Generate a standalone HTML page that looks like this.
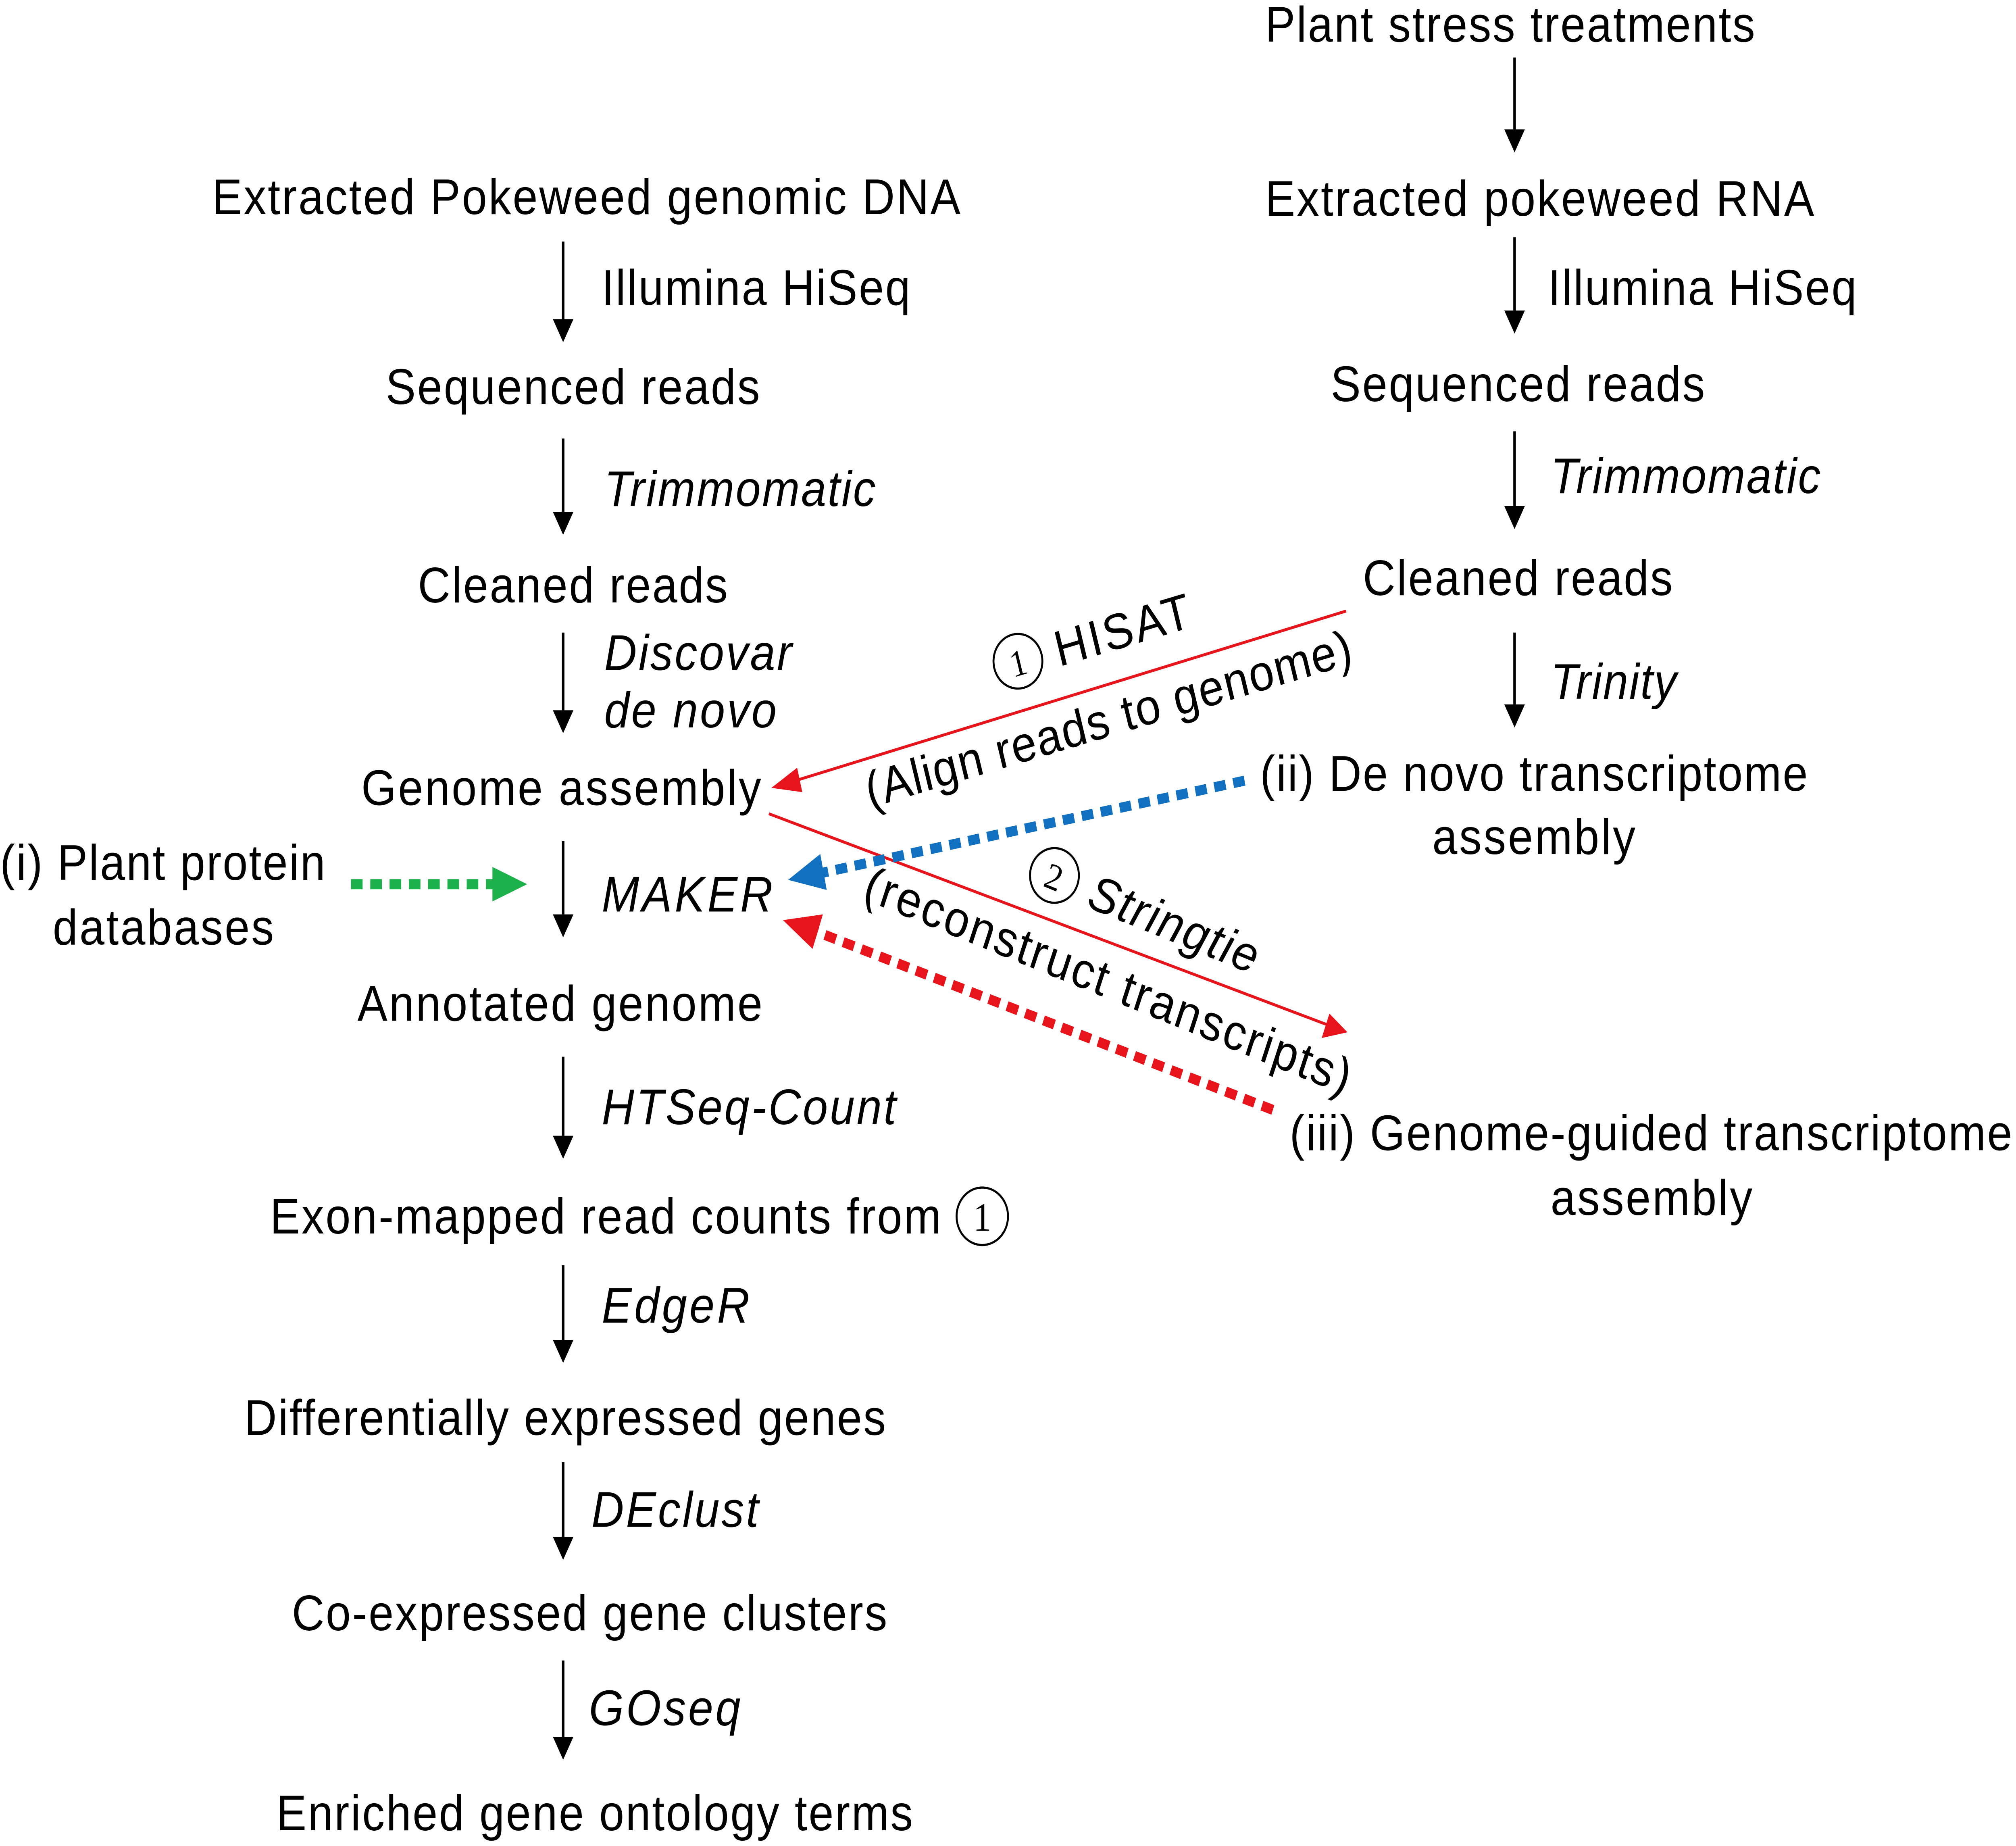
<!DOCTYPE html>
<html><head><meta charset="utf-8"><style>
html,body{margin:0;padding:0;background:#fff;overflow:hidden;width:100%;height:100%;}
svg{display:block;width:100vw;height:100vh;}
text{font-family:"Liberation Sans",sans-serif;font-size:35px;fill:#000;}
.i{font-style:italic;}
</style></head><body>
<svg viewBox="0 0 1568 1284" preserveAspectRatio="none" xmlns="http://www.w3.org/2000/svg">
<g stroke="#000" stroke-width="2" fill="none">
<line x1="438" y1="168" x2="438" y2="222"/><line x1="438" y1="305" x2="438" y2="356"/>
<line x1="438" y1="440" x2="438" y2="494"/><line x1="438" y1="585" x2="438" y2="636"/>
<line x1="438" y1="735" x2="438" y2="790"/><line x1="438" y1="880" x2="438" y2="932"/>
<line x1="438" y1="1017" x2="438" y2="1069"/><line x1="438" y1="1155" x2="438" y2="1208"/>
<line x1="1178" y1="40" x2="1178" y2="90"/><line x1="1178" y1="165" x2="1178" y2="216"/>
<line x1="1178" y1="300" x2="1178" y2="352"/><line x1="1178" y1="440" x2="1178" y2="490"/>
</g>
<g fill="#000">
<polygon points="430,222 446,222 438,238"/><polygon points="430,356 446,356 438,372"/>
<polygon points="430,494 446,494 438,510"/><polygon points="430,636 446,636 438,652"/>
<polygon points="430,790 446,790 438,806"/><polygon points="430,932 446,932 438,948"/>
<polygon points="430,1069 446,1069 438,1085"/><polygon points="430,1208 446,1208 438,1224"/>
<polygon points="1170,90 1186,90 1178,106"/><polygon points="1170,216 1186,216 1178,232"/>
<polygon points="1170,352 1186,352 1178,368"/><polygon points="1170,490 1186,490 1178,506"/>
</g>
<line x1="1047" y1="425" x2="615" y2="544" stroke="#e8141c" stroke-width="2"/>
<polygon points="600,548 620,534 624,551" fill="#e8141c"/>
<line x1="598" y1="566" x2="1033" y2="713" stroke="#e8141c" stroke-width="2"/>
<polygon points="1048,718 1028,722 1034,705" fill="#e8141c"/>
<line x1="273" y1="615" x2="385" y2="615" stroke="#1db14b" stroke-width="7" stroke-dasharray="9,6"/>
<polygon points="410,615 383,603 383,627" fill="#1db14b"/>
<line x1="968" y1="543" x2="640" y2="607" stroke="#1270c0" stroke-width="7" stroke-dasharray="9,6"/>
<polygon points="613,612 638,594 643,619" fill="#1270c0"/>
<line x1="990" y1="772" x2="635" y2="648" stroke="#e8141c" stroke-width="7" stroke-dasharray="9,6"/>
<polygon points="609,640 640,636 632,660" fill="#e8141c"/>
<text x="165" y="149" textLength="582">Extracted Pokeweed genomic DNA</text>
<text x="468" y="212" textLength="240">Illumina HiSeq</text>
<text x="300" y="281" textLength="291">Sequenced reads</text>
<text class="i" x="470" y="352" textLength="211">Trimmomatic</text>
<text x="325" y="419" textLength="241">Cleaned reads</text>
<text class="i" x="470" y="466" textLength="146">Discovar</text>
<text class="i" x="470" y="506" textLength="134">de novo</text>
<text x="281" y="560" textLength="311">Genome assembly</text>
<text x="0" y="612" textLength="253">(i) Plant protein</text>
<text x="41" y="657" textLength="172">databases</text>
<text class="i" x="468" y="634" textLength="133">MAKER</text>
<text x="278" y="710" textLength="315">Annotated genome</text>
<text class="i" x="468" y="782" textLength="229">HTSeq-Count</text>
<text x="210" y="858" textLength="522">Exon-mapped read counts from</text>
<circle cx="764" cy="846" r="20" fill="none" stroke="#000" stroke-width="1.5"/>
<text x="764" y="856" text-anchor="middle" style="font-size:28px;font-family:'Liberation Serif',serif">1</text>
<text class="i" x="468" y="920" textLength="115">EdgeR</text>
<text x="190" y="998" textLength="499">Differentially expressed genes</text>
<text class="i" x="460" y="1062" textLength="130">DEclust</text>
<text x="227" y="1134" textLength="463">Co-expressed gene clusters</text>
<text class="i" x="458" y="1200" textLength="118">GOseq</text>
<text x="215" y="1273" textLength="495">Enriched gene ontology terms</text>
<text x="984" y="29" textLength="381">Plant stress treatments</text>
<text x="984" y="150" textLength="427">Extracted pokeweed RNA</text>
<text x="1204" y="212" textLength="240">Illumina HiSeq</text>
<text x="1035" y="279" textLength="291">Sequenced reads</text>
<text class="i" x="1206" y="343" textLength="210">Trimmomatic</text>
<text x="1060" y="414" textLength="241">Cleaned reads</text>
<text class="i" x="1206" y="486" textLength="98">Trinity</text>
<text x="980" y="550" textLength="426">(ii) De novo transcriptome</text>
<text x="1114" y="594" textLength="158">assembly</text>
<text x="1003" y="800" textLength="562">(iii) Genome-guided transcriptome</text>
<text x="1206" y="845" textLength="157">assembly</text>
<g transform="translate(860,452) rotate(-15)">
<circle cx="-68" cy="-10" r="19" fill="none" stroke="#000" stroke-width="1.5"/>
<text x="-68" y="0" text-anchor="middle" style="font-size:26px;font-family:'Liberation Serif',serif">1</text>
<text x="-38" y="2" textLength="108">HISAT</text>
</g>
<g transform="translate(862,500) rotate(-15)">
<text x="-195" y="12" textLength="390">(Align reads to genome)</text>
</g>
<g transform="translate(890,645) rotate(20)">
<circle cx="-78" cy="-10" r="19" fill="none" stroke="#000" stroke-width="1.5"/>
<text x="-78" y="0" text-anchor="middle" style="font-size:26px;font-family:'Liberation Serif',serif">2</text>
<text class="i" x="-48" y="2" textLength="138">Stringtie</text>
</g>
<g transform="translate(862,682) rotate(20)">
<text x="-200" y="12" textLength="400">(reconstruct transcripts)</text>
</g>
</svg>
</body></html>
